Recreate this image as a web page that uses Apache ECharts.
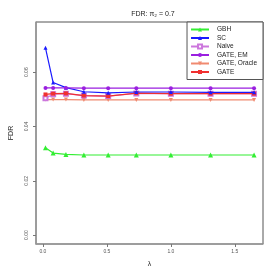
<!DOCTYPE html>
<html><head><meta charset="utf-8">
<script src="https://cdn.jsdelivr.net/npm/echarts@6/dist/echarts.min.js"></script>
<style>html,body{margin:0;padding:0;background:#fff}#c{width:273px;height:273px}</style>
</head><body><div id="c"></div>
<script>
const lambda = [0.02, 0.08, 0.18, 0.32, 0.51, 0.73, 1.0, 1.31, 1.65];
const seriesNames = ['GBH', 'SC', 'Naive', 'GATE, EM', 'GATE, Oracle', 'GATE'];
const GBH = [0.0322, 0.0302, 0.0297, 0.0295, 0.0295, 0.0295, 0.0295, 0.0295, 0.0295];
const SC = [0.0690, 0.0562, 0.0543, 0.0528, 0.0524, 0.0527, 0.0527, 0.0526, 0.0526];
const Naive = [0.0504, 0.0519, 0.0521, 0.0514, 0.0512, 0.0522, 0.0521, 0.0521, 0.0521];
const GATE_EM = [0.0542, 0.0542, 0.0542, 0.0541, 0.0541, 0.0541, 0.0541, 0.0541, 0.0541];
const GATE_Oracle = [0.0499, 0.0499, 0.0499, 0.0498, 0.0498, 0.0498, 0.0498, 0.0498, 0.0498];
const GATE = [0.0518, 0.0521, 0.0522, 0.0514, 0.0512, 0.0523, 0.0521, 0.0521, 0.0521];
const yTicks = [0.00, 0.02, 0.04, 0.06];
const xTicks = [0.0, 0.5, 1.0, 1.5];

const pair = arr => lambda.map((x, i) => [x, arr[i]]);
const styles = [
  {color: '#33ee33', symbol: 'triangle', size: 5, rot: 0, z: 5},
  {color: '#1a1aff', symbol: 'triangle', size: 4, rot: 0, z: 6},
  {color: '#cc77dd', symbol: 'emptyRect', size: 4, rot: 0, z: 4},
  {color: '#9a1fe0', symbol: 'circle', size: 4, rot: 0, z: 7},
  {color: '#f08a70', symbol: 'triangle', size: 4, rot: 180, z: 3},
  {color: '#f03030', symbol: 'rect', size: 4, rot: 0, z: 5}
];
const dataArrs = [GBH, SC, Naive, GATE_EM, GATE_Oracle, GATE];
const font = 'Liberation Sans, Arial, sans-serif';

const chart = echarts.init(document.getElementById('c'), null, {renderer: 'canvas'});
chart.setOption({
  animation: false,
  backgroundColor: '#fff',
  title: {
    text: 'FDR: π₂ = 0.7', left: 148, top: 6, textAlign: 'center',
    textStyle: {fontSize: 7, fontWeight: 'normal', color: '#222', fontFamily: font}
  },
  grid: {left: 33, top: 22, right: 10, bottom: 26, show: true, borderColor: '#555', borderWidth: 1, backgroundColor: 'transparent'},
  legend: {
    orient: 'vertical', right: 10, top: 22, itemGap: 1.5, itemWidth: 18, itemHeight: 5,
    padding: [4, 6, 4, 3],
    borderColor: '#555', borderWidth: 1, backgroundColor: '#fff',
    textStyle: {fontSize: 6.5, color: '#222', fontFamily: font, padding: [0, 0, 0, 3]},
    data: seriesNames
  },
  xAxis: {
    type: 'value', min: -0.054, max: 1.72,
    name: 'λ', nameLocation: 'middle', nameGap: 17,
    nameTextStyle: {fontSize: 7, color: '#222', fontFamily: font},
    splitLine: {show: false},
    axisLine: {show: true, onZero: false, lineStyle: {color: '#999', width: 1.5}},
    axisTick: {show: true, length: 3, lineStyle: {color: '#777'}, customValues: xTicks},
    axisLabel: {fontSize: 5, color: '#555', fontFamily: font, margin: 5, customValues: xTicks, formatter: v => v.toFixed(1)}
  },
  yAxis: {
    type: 'value', min: -0.0033, max: 0.0785,
    name: 'FDR', nameLocation: 'middle', nameGap: 21, nameRotate: 90,
    nameTextStyle: {fontSize: 7, color: '#222', fontFamily: font},
    splitLine: {show: false},
    axisLine: {show: true, onZero: false, lineStyle: {color: '#999', width: 1.5}},
    axisTick: {show: true, length: 3, lineStyle: {color: '#777'}, customValues: yTicks},
    axisLabel: {fontSize: 5, color: '#555', fontFamily: font, margin: 7, rotate: 90, customValues: yTicks, formatter: v => v.toFixed(2)}
  },
  series: seriesNames.map((n, i) => ({
    name: n, type: 'line', data: pair(dataArrs[i]),
    symbol: styles[i].symbol, symbolSize: styles[i].size, symbolRotate: styles[i].rot,
    showAllSymbol: true,
    lineStyle: {color: styles[i].color, width: 1.2},
    itemStyle: {color: styles[i].color, borderColor: styles[i].color, borderWidth: styles[i].symbol === 'emptyRect' ? 1 : 0},
    z: styles[i].z
  }))
});
</script></body></html>
